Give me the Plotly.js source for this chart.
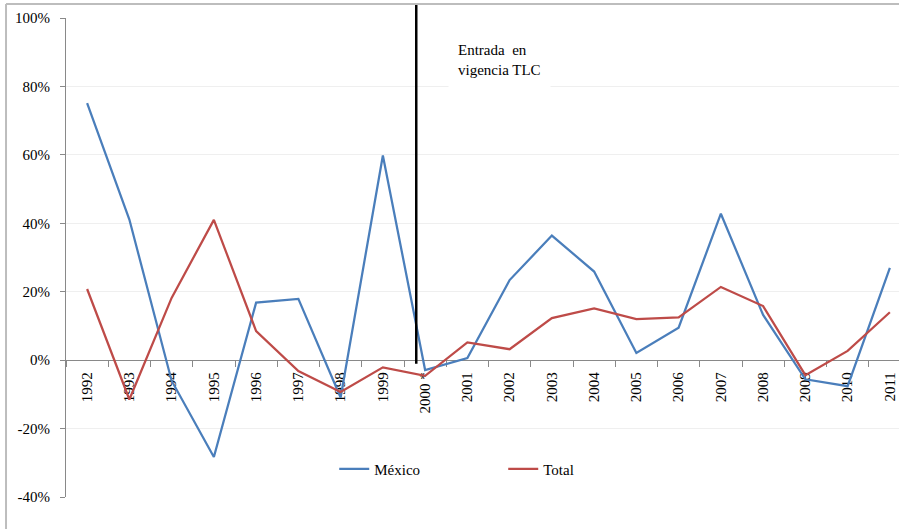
<!DOCTYPE html>
<html>
<head>
<meta charset="utf-8">
<script src="https://cdn.plot.ly/plotly-3.0.1.min.js"></script>
<style>html,body{margin:0;padding:0;background:#fff;}#chart{width:899px;height:529px;}</style>
</head>
<body>
<div id="chart"></div>
<script>
const years = ['1992','1993','1994','1995','1996','1997','1998','1999','2000 *','2001','2002','2003','2004','2005','2006','2007','2008','2009','2010','2011'];
const mexico = [75.1, 41.1, -6.0, -28.3, 16.8, 17.9, -10.9, 59.8, -2.9, 0.6, 23.4, 36.4, 25.9, 2.1, 9.5, 42.8, 13.2, -5.6, -7.6, 27.0];
const total  = [20.8, -11.5, 18.2, 41.0, 8.5, -3.2, -9.3, -2.1, -4.6, 5.2, 3.2, 12.3, 15.1, 12.0, 12.5, 21.4, 15.8, -4.4, 2.7, 14.0];
const yTicks = [-40, -20, 0, 20, 40, 60, 80, 100];
const yTickText = ['-40%', '-20%', '0%', '20%', '40%', '60%', '80%', '100%'];
const seriesNames = ['México', 'Total'];
const tlcPosition = 7.79;   // category index of the "TLC" marker line
const tlcLabel = 'Entrada  en<br>vigencia TLC';

const serif = 'Liberation Serif';
const axisGray = '#898989';

const traces = [
  {x: years, y: mexico, name: seriesNames[0], type: 'scatter', mode: 'lines',
   line: {color: '#4A7EBB', width: 2.25}},
  {x: years, y: total, name: seriesNames[1], type: 'scatter', mode: 'lines',
   line: {color: '#BE4B48', width: 2.25}}
];

const layout = {
  width: 899, height: 529,
  margin: {l: 66, r: 0, t: 18, b: 32},
  paper_bgcolor: '#fff', plot_bgcolor: '#fff',
  font: {family: serif, size: 15, color: '#000'},
  showlegend: true,
  legend: {orientation: 'h', x: 0.322, xanchor: 'left', y: 0.058, yanchor: 'middle',
           font: {family: serif, size: 15, color: '#000'}, entrywidth: 124, bgcolor: 'rgba(0,0,0,0)'},
  xaxis: {
    type: 'category', range: [-0.5, 19.216], anchor: 'free', position: 40/140,
    showline: true, linecolor: axisGray, linewidth: 1,
    ticks: 'outside', tickson: 'boundaries', ticklen: 6, tickcolor: axisGray,
    tickangle: -90, tickfont: {family: serif, size: 15, color: '#000'},
    showgrid: false, zeroline: false, layer: 'below traces', ticklabelstandoff: 5
  },
  yaxis: {
    range: [-40, 100], tickvals: yTicks, ticktext: yTickText,
    showline: true, linecolor: axisGray, linewidth: 1,
    ticks: 'outside', ticklen: 5, tickcolor: axisGray,
    showgrid: true, gridcolor: '#EFEFEF', gridwidth: 1, zeroline: false,
    tickfont: {family: serif, size: 15, color: '#000'}, ticklabelstandoff: 7
  },
  shapes: [
    {type: 'line', xref: 'x', yref: 'paper', x0: tlcPosition, x1: tlcPosition,
     y0: 0.278, y1: 1.027, line: {color: '#000', width: 2.5}},
    {type: 'line', xref: 'paper', yref: 'paper', x0: -0.072, x1: 1.01, y0: 1.0292, y1: 1.0292,
     line: {color: '#BDBDBD', width: 2}},
    {type: 'line', xref: 'paper', yref: 'paper', x0: -0.072, x1: -0.072, y0: 1.0292, y1: -0.08,
     line: {color: '#BDBDBD', width: 2}}
  ],
  annotations: [
    {xref: 'x', yref: 'y', x: 8.54, y: 87.8, xanchor: 'left', yanchor: 'middle',
     text: tlcLabel, showarrow: false, align: 'left', bgcolor: '#fff', borderpad: 9,
     font: {family: serif, size: 15, color: '#000'}}
  ]
};

Plotly.newPlot('chart', traces, layout, {displayModeBar: false, staticPlot: true});
</script>
</body>
</html>
